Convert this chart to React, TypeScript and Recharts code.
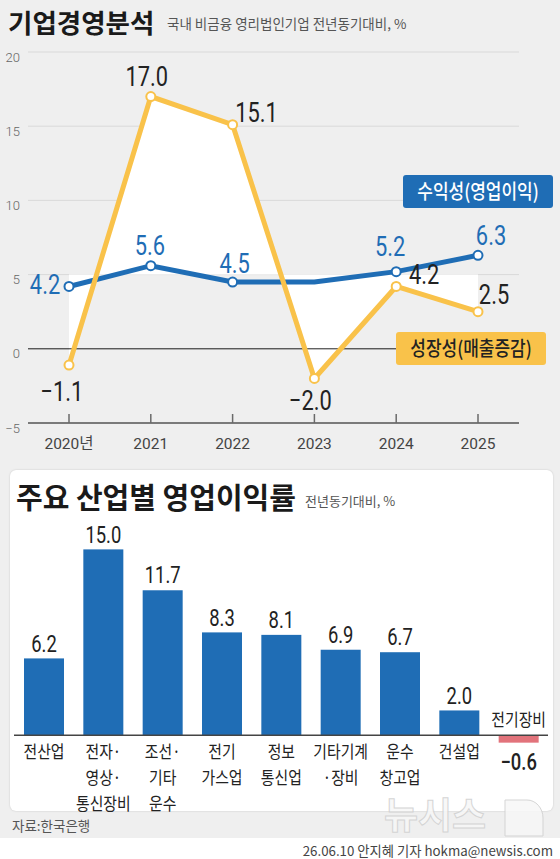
import React from 'react';
import { ComposedChart, Line, Area, XAxis, YAxis, CartesianGrid, ReferenceLine, Bar } from 'recharts';

const years = ['2020년', '2021', '2022', '2023', '2024', '2025'];
const profitability = [4.2, 5.6, 4.5, 4.5, 5.2, 6.3];
const growth = [-1.1, 17.0, 15.1, -2.0, 4.2, 2.5];
const profitMarked = [true, true, true, false, true, true];
const yTicks = [-5, 0, 5, 10, 15, 20];

const industries = ['전산업', '전자·\n영상·\n통신장비', '조선·\n기타\n운수', '전기\n가스업', '정보\n통신업', '기타기계\n·장비', '운수\n창고업', '건설업', '전기장비'];
const opMargins = [6.2, 15.0, 11.7, 8.3, 8.1, 6.9, 6.7, 2.0, -0.6];

// label placement (dx, dy of label centre relative to its point)
const growthLabelOffsets = [[-7, 26], [-4, -20], [24, -13], [-4, 22], [28, -12], [16, -18]];
const profitLabelOffsets = [[-24, -2], [-1, -21], [2, -19], [0, 0], [-6, -26], [13, -20]];

const topData = years.map((y, i) => ({ year: y, profit: profitability[i], growth: growth[i] }));
const barData = industries.map((n, i) => ({ name: n, value: opMargins[i] }));

const BLUE = '#1f6db5';
const YELLOW = '#f9c24a';
const RED = '#e2737b';
const NUM_FONT = "Roboto, 'Liberation Sans', sans-serif";
const KR_FONT = "'Noto Sans CJK KR', 'Noto Sans', sans-serif";

const fmt = (v: number) => (v < 0 ? '\u2212' + Math.abs(v).toFixed(1) : v.toFixed(1));

function NumText({ cx, cy, text, size, fill, sx = 0.78, weight = 400 }: any) {
  return (
    <text transform={`translate(${cx},${cy}) scale(${sx},1)`} x={0} y={size * 0.355} textAnchor="middle"
      fontSize={size} fontFamily={NUM_FONT} fontWeight={weight} fill={fill}>{text}</text>
  );
}

function KrText({ cx, cy, text, size = 17.5, fill = '#222', sx = 0.85, weight = 400, anchor = 'middle' }: any) {
  return (
    <text transform={`translate(${cx},${cy}) scale(${sx},1)`} x={0} y={size * 0.36} textAnchor={anchor}
      fontSize={size} fontFamily={KR_FONT} fontWeight={weight} fill={fill}>{text}</text>
  );
}

const makeDot = (color: string, offsets: number[][], marked: boolean[] | null, labelColor: string) => (props: any) => {
  const { cx, cy, index, value } = props;
  const key = `dot-${color}-${index}`;
  if (cx == null || cy == null) return <g key={key} />;
  if (marked && !marked[index]) return <g key={key} />;
  const off = offsets[index];
  const v = Array.isArray(value) ? value[1] : value;
  return (
    <g key={key}>
      <circle cx={cx} cy={cy} r={4.5} fill="#fff" stroke={color} strokeWidth={2} />
      <NumText cx={cx + off[0]} cy={cy + off[1]} text={fmt(v)} size={28} fill={labelColor} />
    </g>
  );
};

const blueDot = makeDot(BLUE, profitLabelOffsets, profitMarked, BLUE);
const yellowDot = makeDot(YELLOW, growthLabelOffsets, null, '#222');

const YearTick = (props: any) => {
  const { x, y, payload } = props;
  return (
    <g>
      <line x1={x} x2={x} y1={y - 9} y2={y} stroke="#6a6a6a" strokeWidth={1.5} />
      <text x={x} y={y + 26} textAnchor="middle" fontSize={15.5} fill="#444" fontFamily={`Roboto, ${KR_FONT}`}>{payload.value}</text>
    </g>
  );
};

const ValueTick = (props: any) => {
  const { x, y, payload } = props;
  const v = payload.value;
  return (
    <text x={x} y={y + 5} textAnchor="end" dominantBaseline="central" fontSize={13} fill="#666" fontFamily={NUM_FONT} fontWeight={300}>
      {v < 0 ? '\u2212' + Math.abs(v) : v}
    </text>
  );
};

const IndustryBar = (props: any) => {
  const { x, y, width, height, payload } = props;
  if (x == null || payload == null) return <g />;
  const v = payload.value;
  const top = Math.min(y, y + height);
  const bottom = Math.max(y, y + height);
  const cx = x + width / 2;
  const lines: string[] = String(payload.name).split('\n');
  if (v >= 0) {
    return (
      <g>
        <rect x={x} y={top} width={width} height={bottom - top} fill={BLUE} />
        <NumText cx={cx} cy={top - 15} text={fmt(v)} size={23} fill="#222" sx={0.8} />
        {lines.map((l, i) => (
          <KrText key={i} cx={cx} cy={bottom + 16 + i * 26} text={l} />
        ))}
      </g>
    );
  }
  return (
    <g>
      <rect x={x} y={top} width={width} height={bottom - top} fill={RED} />
      <KrText cx={cx} cy={top - 16} text={lines[0]} />
      <NumText cx={cx} cy={bottom + 19} text={fmt(v)} size={23} fill="#222" sx={0.8} weight={500} />
    </g>
  );
};

export default function App() {
  return (
    <div style={{ position: 'absolute', left: 0, top: 0, width: 560, height: 859, background: '#efefef', overflow: 'hidden' }}>
      <div style={{ position: 'absolute', left: 0, top: 838, width: 560, height: 21, background: '#ffffff' }} />
      <div style={{ position: 'absolute', left: 10, top: 470, width: 543, height: 341, background: '#ffffff', borderRadius: 6, boxShadow: '0 0 2px rgba(0,0,0,0.18)' }} />

      <div style={{ position: 'absolute', left: 0, top: 0 }}>
        <ComposedChart width={560} height={460} data={topData} margin={{ top: 52, right: 41, bottom: 0, left: 0 }}>
          <CartesianGrid vertical={false} stroke="#d9d9d9" strokeWidth={1} />
          <XAxis dataKey="year" scale="point" padding={{ left: 41, right: 41 }} height={37}
            axisLine={{ stroke: '#7a7a7a', strokeWidth: 2 }} tickLine={false} tickSize={0} tickMargin={0}
            tick={<YearTick />} interval={0} />
          <YAxis domain={[-5, 20]} ticks={yTicks} width={28} axisLine={false} tickLine={false}
            tickSize={0} tickMargin={8} tick={<ValueTick />} interval={0} />
          <Area dataKey="growth" baseValue={5} type="linear" fill="#ffffff" fillOpacity={1} stroke="none"
            isAnimationActive={false} dot={false} activeDot={false} />
          <ReferenceLine y={0} stroke="#222" strokeWidth={1} />
          <Line dataKey="profit" type="linear" stroke={BLUE} strokeWidth={5} dot={blueDot} activeDot={false} isAnimationActive={false} />
          <Line dataKey="growth" type="linear" stroke={YELLOW} strokeWidth={5} dot={yellowDot} activeDot={false} isAnimationActive={false} />
        </ComposedChart>
      </div>

      <div style={{ position: 'absolute', left: 0, top: 470 }}>
        <ComposedChart width={560} height={352} data={barData} margin={{ top: 67, right: 12, bottom: 62, left: 14 }}>
          <XAxis dataKey="name" hide />
          <YAxis hide domain={[-2, 16]} />
          <ReferenceLine y={0} stroke="#444" strokeWidth={1.5} />
          <Bar dataKey="value" barSize={40} shape={IndustryBar} isAnimationActive={false} />
        </ComposedChart>
      </div>

      <svg width={560} height={859} style={{ position: 'absolute', left: 0, top: 0, pointerEvents: 'none' }}>
        <text x={8} y={33} fontSize={26.5} fontWeight={700} fontFamily={KR_FONT} fill="#1a1a1a">기업경영분석</text>
        <text x={167} y={29} fontSize={13.5} fontFamily={KR_FONT} fill="#555">국내 비금융 영리법인기업 전년동기대비, %</text>

        <rect x={403} y={175} width={150} height={33} rx={3} fill={BLUE} />
        <KrText cx={478} cy={191.5} text="수익성(영업이익)" size={20} fill="#fff" sx={0.85} weight={500} />
        <rect x={396} y={332} width={150} height={33} rx={3} fill={YELLOW} />
        <KrText cx={471} cy={348.5} text="성장성(매출증감)" size={20} fill="#222" sx={0.85} weight={500} />

        <text x={16} y={509} fontSize={29} fontWeight={700} fontFamily={KR_FONT} fill="#1a1a1a">주요 산업별 영업이익률</text>
        <text x={305} y={506} fontSize={13} fontFamily={KR_FONT} fill="#555">전년동기대비, %</text>

        <g opacity={0.85}>
          <text x={384} y={829} fontSize={37} fontWeight={700} fontFamily={KR_FONT} fill="#f7f7f7" stroke="#cfcfcf" strokeWidth={1}>뉴시스</text>
          <path d="M505 800 h22 a16 18 0 0 1 16 18 v18 h-38 z" fill="#f7f7f7" stroke="#cfcfcf" strokeWidth={1} />
        </g>

        <text x={12} y={831} fontSize={13.5} fontFamily={KR_FONT} fill="#555">자료:한국은행</text>
        <text x={553} y={856} textAnchor="end" fontSize={13.3} fontFamily={KR_FONT} fill="#444">26.06.10 안지혜 기자 hokma@newsis.com</text>
      </svg>
    </div>
  );
}
